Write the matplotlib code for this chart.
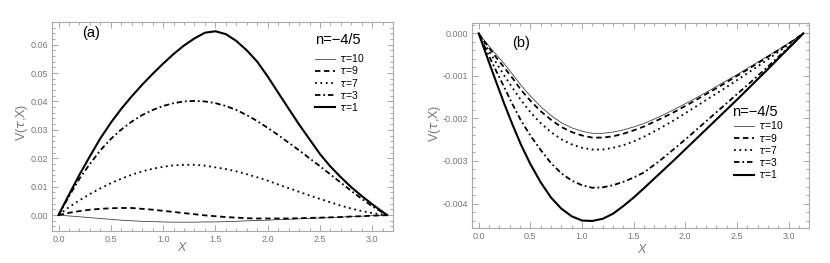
import numpy as np
import matplotlib.pyplot as plt
from matplotlib.ticker import MultipleLocator, FormatStrFormatter

# Donnees (n = -4/5)
taus = [10, 9, 7, 3, 1]

# Panneau (a)
xa = [0, 0.05, 0.1, 0.2, 0.3, 0.4, 0.5, 0.6, 0.7, 0.8, 0.9, 1.0, 1.1, 1.2, 1.3, 1.4, 1.5, 1.6,
      1.7, 1.8, 1.9, 2.0, 2.1, 2.2, 2.3, 2.4, 2.5, 2.6, 2.7, 2.8, 2.9, 3.0, 3.1, np.pi]
va_t10 = [0, -0.00015, -0.0003, -0.0006, -0.0009, -0.0012, -0.0015, -0.0018, -0.0020, -0.0022, -0.0023,
          -0.0024, -0.0025, -0.0025, -0.0025, -0.0024, -0.0024, -0.0023, -0.0022, -0.0020, -0.0019,
          -0.0018, -0.0016, -0.0015, -0.0013, -0.0012, -0.0010, -0.0009, -0.0007, -0.0005, -0.0004,
          -0.0002, -0.0001, 0]
va_t9 = [0, 0.0004, 0.0008, 0.0014, 0.0019, 0.0022, 0.0024, 0.0025, 0.0025, 0.0022, 0.0019,
         0.0015, 0.0011, 0.0007, 0.0003, -0.0001, -0.0004, -0.0007, -0.0009, -0.0011, -0.0012,
         -0.0012, -0.0012, -0.0012, -0.0011, -0.0010, -0.0009, -0.0008, -0.0007, -0.0005, -0.0004,
         -0.0002, -0.0001, 0]
va_t7 = [0, 0.0014, 0.0028, 0.0052, 0.0074, 0.0094, 0.0112, 0.0128, 0.0142, 0.0154, 0.0163,
         0.0170, 0.0175, 0.0177, 0.0177, 0.0174, 0.0168, 0.0162, 0.0154, 0.0144, 0.0133,
         0.0121, 0.0108, 0.0095, 0.0082, 0.0069, 0.0057, 0.0045, 0.0033, 0.0023, 0.0014,
         0.0007, 0.0002, 0]
va_t3 = [0, 0.0033, 0.0066, 0.0128, 0.0180, 0.0228, 0.0268, 0.0301, 0.0329, 0.0352, 0.0370,
         0.0384, 0.0394, 0.0400, 0.0402, 0.0400, 0.0394, 0.0384, 0.0370, 0.0352, 0.0331,
         0.0307, 0.0282, 0.0255, 0.0228, 0.0200, 0.0172, 0.0143, 0.0114, 0.0085, 0.0057,
         0.0031, 0.0009, 0]
va_t1 = [0, 0.0036, 0.0072, 0.0142, 0.0207, 0.0270, 0.0325, 0.0374, 0.0418, 0.0459, 0.0497,
         0.0533, 0.0567, 0.0597, 0.0622, 0.0642, 0.0647, 0.0637, 0.0613, 0.0580, 0.0540,
         0.0488, 0.0431, 0.0375, 0.0319, 0.0267, 0.0215, 0.0171, 0.0133, 0.0098, 0.0067,
         0.0038, 0.0011, 0]

# Panneau (b)
xb = [0, 0.05, 0.1, 0.175, 0.25, 0.33, 0.41, 0.5, 0.6, 0.7, 0.8, 0.9, 1.0, 1.1, 1.2, 1.3, 1.4,
      1.5, 1.6, 1.75, 1.9, 2.05, 2.2, 2.35, 2.5, 2.65, 2.8, 2.95, 3.05, np.pi]
vb_t10 = [0, -0.00015, -0.00030, -0.00051, -0.00072, -0.00097, -0.00122, -0.00147, -0.00172, -0.00193,
          -0.00210, -0.00222, -0.00230, -0.00235, -0.00235, -0.00232, -0.00227, -0.00220, -0.00212,
          -0.00196, -0.00178, -0.00159, -0.00139, -0.00118, -0.00097, -0.00075, -0.00053, -0.00031,
          -0.00015, 0]
vb_t9 = [0, -0.00017, -0.00034, -0.00058, -0.00081, -0.00106, -0.00133, -0.00158, -0.00183, -0.00203,
         -0.00220, -0.00232, -0.00240, -0.00245, -0.00245, -0.00242, -0.00236, -0.00228, -0.00219,
         -0.00202, -0.00184, -0.00164, -0.00143, -0.00122, -0.00100, -0.00078, -0.00055, -0.00032,
         -0.00016, 0]
vb_t7 = [0, -0.00021, -0.00042, -0.00071, -0.00100, -0.00129, -0.00157, -0.00185, -0.00211, -0.00232,
         -0.00249, -0.00261, -0.00269, -0.00273, -0.00273, -0.00269, -0.00263, -0.00254, -0.00243,
         -0.00224, -0.00203, -0.00180, -0.00157, -0.00134, -0.00110, -0.00086, -0.00061, -0.00035,
         -0.00018, 0]
vb_t3 = [0, -0.00027, -0.00053, -0.00091, -0.00128, -0.00168, -0.00205, -0.00240, -0.00274, -0.00305,
         -0.00329, -0.00346, -0.00357, -0.00363, -0.00362, -0.00357, -0.00349, -0.00339, -0.00327,
         -0.00300, -0.00270, -0.00239, -0.00207, -0.00175, -0.00143, -0.00111, -0.00078, -0.00044,
         -0.00022, 0]
vb_t1 = [0, -0.00034, -0.00068, -0.00118, -0.00167, -0.00216, -0.00262, -0.00307, -0.00350, -0.00386,
         -0.00412, -0.00430, -0.00440, -0.00441, -0.00436, -0.00424, -0.00406, -0.00386, -0.00364,
         -0.00330, -0.00296, -0.00261, -0.00226, -0.00191, -0.00156, -0.00120, -0.00084, -0.00047,
         -0.00023, 0]

styles = [dict(color='#444444', lw=0.6, ls='-'),
          dict(color='black', lw=1.3, ls=(0, (3.0, 2.0))),
          dict(color='black', lw=1.3, ls=(0, (1.0, 2.0))),
          dict(color='black', lw=1.3, ls=(0, (3.0, 1.6, 1.0, 1.6))),
          dict(color='black', lw=1.5, ls='-')]

plt.rcParams['font.family'] = ['Liberation Sans', 'DejaVu Sans']
gray = '#777777'

fig = plt.figure(figsize=(8.3, 2.63), dpi=100)
ax1 = fig.add_axes([0.0627, 0.1217, 0.411, 0.795])
ax2 = fig.add_axes([0.569, 0.134, 0.406, 0.777])

for ax, x, curves in [(ax1, xa, [va_t10, va_t9, va_t7, va_t3, va_t1]),
                      (ax2, xb, [vb_t10, vb_t9, vb_t7, vb_t3, vb_t1])]:
    for v, st, t in zip(curves, styles, taus):
        ax.plot(x, v, label=r'$\tau$=%d' % t, **st)
    ax.set_xlim(-0.062, 3.2)
    ax.xaxis.set_major_locator(MultipleLocator(0.5))
    ax.xaxis.set_minor_locator(MultipleLocator(0.1))
    ax.xaxis.set_major_formatter(FormatStrFormatter('%.1f'))
    ax.tick_params(which='both', direction='in', top=True, right=True, colors='#999999',
                   labelcolor=gray, labelsize=6.5, width=0.6)
    ax.tick_params(which='major', length=4, pad=3)
    ax.tick_params(which='minor', length=2)
    for s in ax.spines.values():
        s.set_color('#aaaaaa')
        s.set_linewidth(0.8)

ax1.set_ylim(-0.0056, 0.068)
ax1.yaxis.set_major_locator(MultipleLocator(0.01))
ax1.yaxis.set_minor_locator(MultipleLocator(0.002))
ax1.yaxis.set_major_formatter(FormatStrFormatter('%.2f'))

ax2.set_ylim(-0.00457, 0.000235)
ax2.yaxis.set_major_locator(MultipleLocator(0.001))
ax2.yaxis.set_minor_locator(MultipleLocator(0.0002))
ax2.yaxis.set_major_formatter(FormatStrFormatter('%.3f'))

ax1.text(0.088, 0.947, '(a)', transform=ax1.transAxes, fontsize=10.5, va='center')
ax2.text(0.118, 0.904, '(b)', transform=ax2.transAxes, fontsize=10.5, va='center')

# titre de legende + legende
for ax, head, pos in [(ax1, (0.771, 0.914), (0.772, 0.855)), (ax2, (0.771, 0.566), (0.777, 0.53))]:
    ax.text(head[0], head[1], 'n=\u22124/5', transform=ax.transAxes, fontsize=10.5, va='center')
    ax.legend(loc='upper left', bbox_to_anchor=pos, frameon=False, fontsize=7.5,
              handlelength=1.9, handletextpad=0.35, labelspacing=0.02, borderpad=0, borderaxespad=0)

fig.text(0.026, 0.536, r'V($\tau$,X)', rotation=90, color=gray, fontsize=9, ha='center', va='center')
fig.text(0.524, 0.532, r'V($\tau$,X)', rotation=90, color=gray, fontsize=9, ha='center', va='center')
fig.text(0.219, 0.057, 'X', style='italic', color=gray, fontsize=9, ha='center', va='center')
fig.text(0.773, 0.049, 'X', style='italic', color=gray, fontsize=9, ha='center', va='center')

fig.savefig('out.png', dpi=100)
